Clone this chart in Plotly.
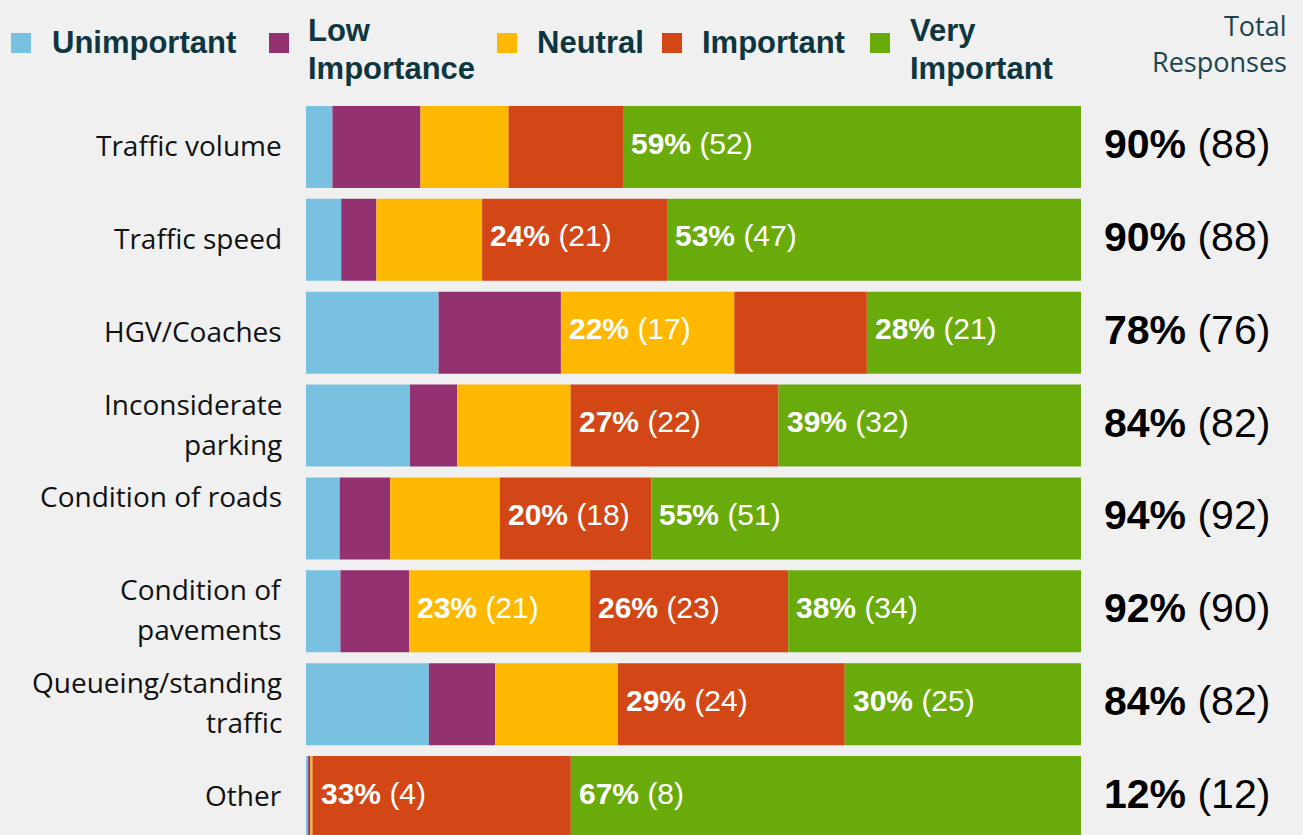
import plotly.graph_objects as go

# ---------------- data ----------------
categories = ["Traffic volume", "Traffic speed", "HGV/Coaches", "Inconsiderate<br>parking",
              "Condition of roads<br> ", "Condition of<br>pavements",
              "Queueing/standing<br>traffic", "Other"]
series_names = ["Unimportant", "Low<br>Importance", "Neutral", "Important", "Very<br>Important"]
unimportant = [3, 4, 13, 11, 4, 4, 13, 0]
low_importance = [10, 4, 12, 5, 6, 8, 7, 0]
neutral = [10, 12, 17, 12, 13, 21, 13, 0]
important = [13, 21, 13, 22, 18, 23, 24, 4]
very_important = [52, 47, 21, 32, 51, 34, 25, 8]
total_pct = [90, 90, 78, 84, 94, 92, 84, 12]
colors = ["#78C1E0", "#943170", "#FFB800", "#D34615", "#6AAB0C"]

series = [unimportant, low_importance, neutral, important, very_important]
n_cat = len(categories)
totals = [sum(s[i] for s in series) for i in range(n_cat)]

# ---------------- layout geometry (px) ----------------
W, H = 1303, 835
L, R = 306, 1081          # plot left/right px
T, B = 100, 835           # plot top/bottom px
pitch = 92.86
first_center = 147
MIN_SHOW = 0.28           # minimum drawn width (percent) for empty segments

def px_x(px):
    return (px - L) / (R - L)

def px_y(py):
    return (B - py) / (B - T)

y_top = -(first_center - T) / pitch
y_bot = (B - first_center) / pitch

fig = go.Figure()
annotations = []
shapes = []

ypos = list(range(n_cat))
starts = [0.0] * n_cat
for k, s in enumerate(series):
    vals = [max(s[i] / totals[i] * 100, MIN_SHOW) for i in range(n_cat)]
    fig.add_trace(go.Bar(
        y=ypos, x=vals, base=starts[:], orientation="h", width=82 / pitch,
        marker=dict(color=colors[k], line=dict(width=0)),
        name=series_names[k], showlegend=False, hoverinfo="skip"))
    for i in range(n_cat):
        pct = round(s[i] / totals[i] * 100)
        if pct >= 20:
            annotations.append(dict(
                x=starts[i], y=i, xref="x", yref="y", xanchor="left", yanchor="middle",
                xshift=6, yshift=4, showarrow=False,
                text=f"<b>{pct}%</b> ({s[i]})",
                font=dict(family="Liberation Sans, Arial", size=30, color="white")))
    starts = [starts[i] + vals[i] for i in range(n_cat)]

# category labels (one annotation per line)
line_gap = 40
for i, cat in enumerate(categories):
    lines = cat.split("<br>")
    nl = len(lines)
    for j, ln in enumerate(lines):
        if not ln.strip():
            continue
        off = (j - (nl - 1) / 2) * line_gap
        annotations.append(dict(
            x=px_x(284), y=i, xref="paper", yref="y", xanchor="right", yanchor="middle",
            yshift=-off + 2, showarrow=False, text=ln,
            font=dict(family="Open Sans", size=28, color="#111111")))

# totals column
for i in range(n_cat):
    annotations.append(dict(
        x=px_x(1187), y=i, xref="paper", yref="y", xanchor="center", yanchor="middle",
        yshift=3, showarrow=False,
        text=f"<b>{total_pct[i]}%</b> ({totals[i]})",
        font=dict(family="Liberation Sans, Arial", size=41, color="#000000")))

# legend (manual)
sq_x = [11, 269, 497, 662, 870]
txt_x = [50, 306, 535, 700, 908]
for k in range(len(series_names)):
    shapes.append(dict(type="rect", xref="paper", yref="paper",
                       x0=px_x(sq_x[k]), x1=px_x(sq_x[k] + 20),
                       y0=px_y(53), y1=px_y(33),
                       fillcolor=colors[k], line=dict(width=0)))
    lines = series_names[k].split("<br>")
    if len(lines) == 1:
        centers = [43]
    else:
        centers = [31, 68]
    for ln, cy in zip(lines, centers):
        annotations.append(dict(
            x=px_x(txt_x[k]), y=px_y(cy), xref="paper", yref="paper",
            xanchor="left", yanchor="middle", showarrow=False, text=f"<b>{ln}</b>",
            font=dict(family="Liberation Sans, Arial", size=31, color="#0E3641")))

for ln, cy in zip(["Total", "Responses"], [26, 62]):
    annotations.append(dict(
        x=px_x(1289), y=px_y(cy), xref="paper", yref="paper",
        xanchor="right", yanchor="middle", showarrow=False, text=ln,
        font=dict(family="Open Sans", size=27, color="#1A4550")))

fig.update_layout(
    width=W, height=H,
    margin=dict(l=L, r=W - R, t=T, b=H - B, pad=0),
    paper_bgcolor="#F0F0F0", plot_bgcolor="#F0F0F0",
    barmode="overlay",
    xaxis=dict(range=[0, 100], visible=False, fixedrange=True),
    yaxis=dict(range=[y_bot, y_top], visible=False, fixedrange=True),
    annotations=annotations, shapes=shapes,
    hovermode=False, showlegend=False,
)

fig.write_html("out.html", config={"displayModeBar": False},
               post_script="document.body.style.margin='0';document.body.style.background='#F0F0F0';")
